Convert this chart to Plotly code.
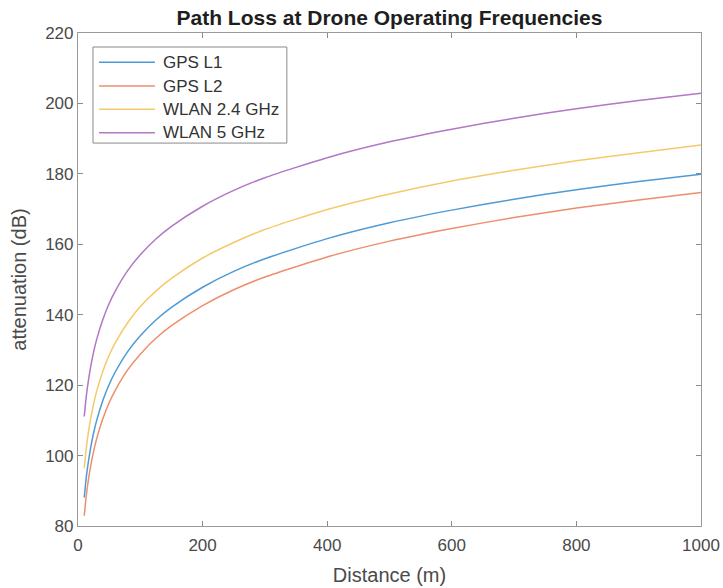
import plotly.graph_objects as go

# Distance samples (m)
distance = [10, 12, 15, 20, 25, 30, 40, 50, 60, 80, 100, 125, 150, 200, 250,
            300, 400, 500, 600, 700, 800, 900, 1000]

# Attenuation (dB)
gps_l1 = [88.1, 91.7, 96.2, 101.9, 106.4, 110.0, 115.7, 120.2, 123.8, 129.6, 134.0,
          138.5, 142.1, 147.8, 152.3, 155.9, 161.6, 166.1, 169.7, 172.8, 175.5, 177.8, 179.9]
gps_l2 = [82.9, 86.5, 91.0, 96.7, 101.2, 104.8, 110.5, 115.0, 118.6, 124.4, 128.8,
          133.3, 136.9, 142.6, 147.1, 150.7, 156.4, 160.9, 164.5, 167.6, 170.3, 172.6, 174.7]
wlan_24 = [96.4, 99.9, 104.5, 110.2, 114.6, 118.3, 124.0, 128.5, 132.1, 137.8, 142.3,
           146.7, 150.3, 156.1, 160.5, 164.2, 169.9, 174.3, 178.0, 181.0, 183.7, 186.0, 188.2]
wlan_5 = [111.1, 114.7, 119.2, 124.9, 129.4, 133.0, 138.7, 143.2, 146.8, 152.6, 157.0,
          161.5, 165.1, 170.8, 175.3, 178.9, 184.6, 189.1, 192.7, 195.8, 198.5, 200.8, 202.9]

series_names = ["GPS L1", "GPS L2", "WLAN 2.4 GHz", "WLAN 5 GHz"]
series_values = [gps_l1, gps_l2, wlan_24, wlan_5]
colors = ["#4d9bd6", "#ee8e6c", "#f4ca6a", "#b277c6"]

x_ticks = [0, 200, 400, 600, 800, 1000]
y_ticks = [80, 100, 120, 140, 160, 180, 200, 220]

FONT = "Liberation Sans, Arial, Helvetica, sans-serif"

W, H = 723, 588
ML, MR, MT, MB = 78, 21.5, 33, 62.3
PW, PH = W - ML - MR, H - MT - MB


def px_x(px):
    return (px - ML) / PW


def px_y(py):
    return (H - MB - py) / PH


fig = go.Figure()
for name, vals, col in zip(series_names, series_values, colors):
    fig.add_trace(go.Scatter(
        x=distance, y=vals, mode="lines", name=name,
        line=dict(color=col, width=1.5, shape="spline", smoothing=0.6),
        showlegend=False,
    ))

# Manual MATLAB-style legend
shapes = [dict(type="rect", xref="paper", yref="paper",
               x0=px_x(93), x1=px_x(287), y0=px_y(143), y1=px_y(47),
               line=dict(color="#8a8a8a", width=1), fillcolor="white", layer="above")]
annotations = []
entry_y = [62.3, 86.0, 109.3, 132.6]
for name, col, ey in zip(series_names, colors, entry_y):
    shapes.append(dict(type="line", xref="paper", yref="paper",
                       x0=px_x(99), x1=px_x(155), y0=px_y(ey), y1=px_y(ey),
                       line=dict(color=col, width=1.5), layer="above"))
    annotations.append(dict(xref="paper", yref="paper", x=px_x(161), y=px_y(ey),
                            xanchor="left", yanchor="middle", showarrow=False,
                            text=name, font=dict(family=FONT, size=17, color="#333333")))

axis_common = dict(
    showline=True, linecolor="#9a9a9a", linewidth=1.2, mirror="ticks",
    ticks="inside", ticklen=5, tickwidth=1, tickcolor="#8a8a8a",
    showgrid=False, zeroline=False, automargin=False,
    tickfont=dict(family=FONT, size=17, color="#4a4a4a"),
)

fig.update_layout(
    width=W, height=H,
    margin=dict(l=ML, r=MR, t=MT, b=MB),
    paper_bgcolor="white", plot_bgcolor="white",
    font=dict(family=FONT),
    title=dict(
        text="<b>Path Loss at Drone Operating Frequencies</b>",
        font=dict(family=FONT, size=21, color="#1e1e1e"),
        x=0.5, xref="paper", xanchor="center",
        y=1 - 17.5 / H, yref="container", yanchor="middle",
    ),
    xaxis=dict(
        range=[0, 1000], tickvals=x_ticks, ticklabelstandoff=3,
        title=dict(text="Distance (m)", font=dict(family=FONT, size=20, color="#4a4a4a"), standoff=14),
        **axis_common,
    ),
    yaxis=dict(
        range=[80, 220], tickvals=y_ticks,
        title=dict(text="attenuation (dB)", font=dict(family=FONT, size=20, color="#4a4a4a"), standoff=13),
        **axis_common,
    ),
    shapes=shapes,
    annotations=annotations,
    showlegend=False,
)

fig.write_html("out.html")
